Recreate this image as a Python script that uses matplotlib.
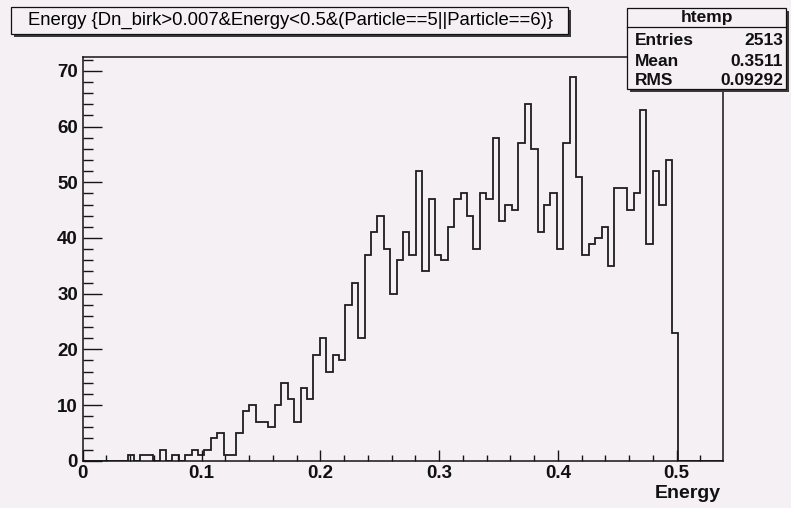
import numpy as np
import matplotlib
matplotlib.use("Agg")
import matplotlib.pyplot as plt
from matplotlib.patches import Rectangle

# ---------------- data ----------------
x_min, x_max = 0.0, 0.5392
n_bins = 100
counts = np.zeros(n_bins)
low_bins = {7: 1, 9: 1, 10: 1, 12: 2, 14: 1, 16: 1, 17: 2, 18: 1, 19: 2,
            20: 4, 21: 5, 22: 1, 23: 1, 24: 5, 25: 9}
main_bins = [10, 7, 7, 6, 10, 14, 11, 7, 13, 11,          # 26-35
             19, 22, 16, 19, 18, 28, 32, 22, 37, 41,       # 36-45
             44, 38, 30, 36, 41, 37, 52, 34, 47, 37,       # 46-55
             36, 42, 47, 48, 44, 38, 48, 47, 58, 43,       # 56-65
             46, 45, 57, 64, 56, 41, 46, 48, 38, 57,       # 66-75
             69, 51, 37, 39, 40, 42, 35, 49, 49, 45,       # 76-85
             48, 63, 39, 52, 46, 54, 23]                   # 86-92
for k, v in low_bins.items():
    counts[k] = v
counts[26:26 + len(main_bins)] = main_bins
edges = np.linspace(x_min, x_max, n_bins + 1)

x_major = [0, 0.1, 0.2, 0.3, 0.4, 0.5]
x_major_labels = ["0", "0.1", "0.2", "0.3", "0.4", "0.5"]
y_major = [0, 10, 20, 30, 40, 50, 60, 70]
title_text = "Energy {Dn_birk>0.007&Energy<0.5&(Particle==5||Particle==6)}"
stats_name = "htemp"
stats_labels = ["Entries", "Mean", "RMS"]
stats_values = ["2513", "0.3511", "0.09292"]
x_title = "Energy"

# ---------------- style ----------------
W, H = 791, 508
BG = "#f4f0f4"
plt.rcParams["font.family"] = ["Liberation Sans", "DejaVu Sans"]
plt.rcParams["font.weight"] = "bold"

fig = plt.figure(figsize=(W / 100, H / 100), dpi=100)
fig.patch.set_facecolor(BG)


def fx(x):
    return x / W


def fy(y):
    return 1 - y / H


ax_l, ax_r, ax_t, ax_b = 82.7, 723.3, 57.3, 460.7
ax = fig.add_axes([fx(ax_l), fy(ax_b), (ax_r - ax_l) / W, (ax_b - ax_t) / H])
ax.set_facecolor(BG)
ax.stairs(counts, edges, baseline=0, color="#1e1e1e", lw=1.3)
ax.set_xlim(x_min, x_max)
ax.set_ylim(0, max(counts) * 1.05)

for s in ax.spines.values():
    s.set_color("#151515")
    s.set_linewidth(1.1)

ax.set_xticks(x_major)
ax.set_xticklabels(x_major_labels)
ax.set_xticks(np.arange(0, 0.53, 0.02), minor=True)
ax.set_yticks(y_major)
ax.set_yticks(np.arange(0, 73, 2), minor=True)
ax.tick_params(axis="x", which="major", direction="in", length=7.9, width=1.0,
               labelsize=13.5, pad=3, color="#151515", labelcolor="#111111")
ax.tick_params(axis="x", which="minor", direction="in", length=4.5, width=1.0,
               color="#151515")
ax.tick_params(axis="y", which="major", direction="in", length=13.8, width=1.0,
               labelsize=13.5, pad=3.4, color="#151515", labelcolor="#111111")
ax.tick_params(axis="y", which="minor", direction="in", length=7.2, width=1.0,
               color="#151515")

fig.text(fx(721), fy(493), x_title, ha="right", va="center", fontsize=14,
         fontweight="bold", color="#111111")


# ---------------- boxes ----------------
def box(x0, y0, x1, y1, shadow=3.0):
    fig.patches.append(Rectangle((fx(x0 + shadow), fy(y1 + shadow)),
                                 (x1 - x0) / W, (y1 - y0) / H,
                                 transform=fig.transFigure, facecolor="#3a3a3a",
                                 edgecolor="none", zorder=5))
    fig.patches.append(Rectangle((fx(x0), fy(y1)), (x1 - x0) / W, (y1 - y0) / H,
                                 transform=fig.transFigure, facecolor=BG,
                                 edgecolor="#111111", lw=0.9, zorder=6))


# title box
box(11, 7.5, 568, 33.5)
t = fig.text(fx(27.5), fy(20.5), title_text, ha="left", va="center",
             fontsize=12.5, fontweight="normal", color="#000000", zorder=7)
fig.canvas.draw()
bb = t.get_window_extent()
target = 556 - 27.5
t.set_fontsize(12.5 * target / bb.width)

# stats box
box(627, 8.3, 786, 89.3, shadow=2.5)
fig.lines.append(plt.Line2D([fx(627), fx(786)], [fy(26.7), fy(26.7)],
                            transform=fig.transFigure, color="#111111", lw=0.9,
                            zorder=7))
fig.text(fx(706.5), fy(17.5), stats_name, ha="center", va="center",
         fontsize=12.5, fontweight="bold", color="#111111", zorder=8)
row_y = [40.7, 61.2, 80.8]
for lab, val, yy in zip(stats_labels, stats_values, row_y):
    fig.text(fx(635), fy(yy), lab, ha="left", va="center", fontsize=12.5,
             fontweight="bold", color="#111111", zorder=8)
    fig.text(fx(783), fy(yy), val, ha="right", va="center", fontsize=12.5,
             fontweight="bold", color="#111111", zorder=8)

fig.savefig("out.png", dpi=100, facecolor=BG)
